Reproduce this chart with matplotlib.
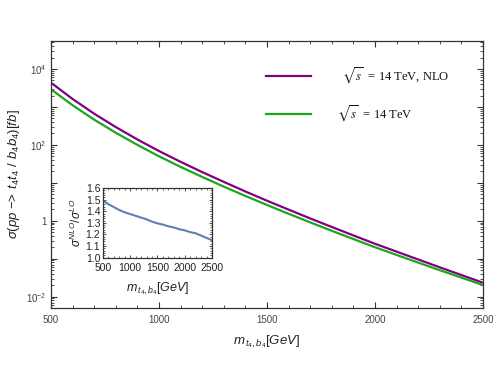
import numpy as np
import matplotlib
matplotlib.use("Agg")
import matplotlib.pyplot as plt
from matplotlib.ticker import FixedLocator, FuncFormatter, MultipleLocator, NullFormatter

# ---- data ----
mass = [500, 600, 700, 800, 900, 1000, 1100, 1200, 1300, 1400, 1500,
        1600, 1700, 1800, 1900, 2000, 2100, 2200, 2300, 2400, 2500]
sigma_lo = [2920, 1110, 462, 209, 100, 50.1, 26.3, 14.3, 7.94, 4.52, 2.61,
            1.53, 0.908, 0.545, 0.330, 0.201, 0.126, 0.0789, 0.0499, 0.0318, 0.0203]
sigma_nlo = [4350, 1620, 663, 295, 139, 68.9, 35.8, 19.2, 10.6, 5.92, 3.38,
             1.97, 1.153, 0.687, 0.411, 0.248, 0.154, 0.0955, 0.0594, 0.0372, 0.0233]
k_factor = [1.49, 1.46, 1.435, 1.41, 1.39, 1.375, 1.36, 1.345, 1.33, 1.31, 1.295,
            1.285, 1.27, 1.26, 1.245, 1.235, 1.22, 1.21, 1.19, 1.17, 1.15]
legend_labels = [r'$\sqrt{s}$  = 14 TeV, NLO', r'$\sqrt{s}$  = 14 TeV']
x_ticks = [500, 1000, 1500, 2000, 2500]
y_decades = [-2, -1, 0, 1, 2, 3, 4]
inset_x_ticks = [500, 1000, 1500, 2000, 2500]
inset_y_ticks = [1.0, 1.1, 1.2, 1.3, 1.4, 1.5, 1.6]

plt.rcParams['font.family'] = ['Liberation Sans', 'DejaVu Sans']
plt.rcParams['mathtext.fontset'] = 'custom'
plt.rcParams['mathtext.rm'] = 'Liberation Sans'
plt.rcParams['mathtext.it'] = 'Liberation Sans:italic'
plt.rcParams['mathtext.bf'] = 'Liberation Sans:bold'

purple = '#820082'
green = '#1aa81a'
frame = '#333333'
tickc = '#444444'

fig = plt.figure(figsize=(4.98, 3.74), dpi=100)
ax = fig.add_axes([0.1024, 0.1773, 0.8675, 0.7131])

ax.plot(mass, sigma_nlo, color=purple, lw=1.6, solid_capstyle='butt')
ax.plot(mass, sigma_lo, color=green, lw=1.6, solid_capstyle='butt')
ax.set_yscale('log')
ax.set_xlim(500, 2500)
ax.set_ylim(10**-2.29, 10**4.738)

ax.xaxis.set_major_locator(FixedLocator(x_ticks))
ax.xaxis.set_minor_locator(MultipleLocator(100))
ax.yaxis.set_major_locator(FixedLocator([10.0**e for e in y_decades]))
minors = [m * 10.0**e for e in range(-3, 5) for m in range(2, 10)]
minors = [v for v in minors if 10**-2.29 < v < 10**4.738]
ax.yaxis.set_minor_locator(FixedLocator(minors))
ax.yaxis.set_minor_formatter(NullFormatter())

def yfmt(v, pos):
    e = int(round(np.log10(v)))
    if e % 2:
        return ''
    if e == 0:
        return '1'
    return r'$10^{%d}$' % e
ax.yaxis.set_major_formatter(FuncFormatter(yfmt))

for sp in ax.spines.values():
    sp.set_color(frame)
    sp.set_linewidth(0.9)
ax.tick_params(which='both', direction='in', top=True, right=True, colors=frame,
               labelcolor=tickc, labelsize=7)
ax.tick_params(which='major', length=4, width=0.8)
ax.tick_params(which='minor', length=2.3, width=0.6)
ax.tick_params(axis='x', pad=5)
ax.tick_params(axis='y', pad=3)

ax.set_xlabel(r'$m_{\,t_4,b_4}[GeV]$', fontsize=9.5, color='#222222', labelpad=6)
ax.set_ylabel(r'$\sigma(pp\ \mathrm{{-}\!\!>}\ t_4t_4\ /\ b_4b_4)[fb]$', fontsize=9.5,
              color='#222222', labelpad=3)

# legend (manual)
leg_y = [0.8688, 0.7263]
leg_tx = [0.674, 0.662]
for yy, tx, c, lab in zip(leg_y, leg_tx, [purple, green], legend_labels):
    ax.plot([0.4977, 0.6019], [yy, yy], transform=ax.transAxes, color=c, lw=1.6)
    ax.text(tx, yy, lab, transform=ax.transAxes, fontsize=9, va='center', ha='left',
            family=['Liberation Serif', 'DejaVu Serif'], math_fontfamily='stix', color='#111111')

# inset
ins = fig.add_axes([0.2068, 0.311, 0.2189, 0.1864])
ins.plot(mass, k_factor, color='#5e81b5', lw=1.5)
ins.set_xlim(500, 2500)
ins.set_ylim(1.0, 1.6)
ins.xaxis.set_major_locator(FixedLocator(inset_x_ticks))
ins.xaxis.set_minor_locator(MultipleLocator(100))
ins.yaxis.set_major_locator(FixedLocator(inset_y_ticks))
ins.yaxis.set_minor_locator(MultipleLocator(0.02))
ins.yaxis.set_major_formatter(FuncFormatter(lambda v, p: '%.1f' % v))
for sp in ins.spines.values():
    sp.set_color(frame)
    sp.set_linewidth(0.9)
ins.tick_params(which='both', direction='in', top=True, right=True, colors=frame,
                labelcolor='#222222', labelsize=7.5)
ins.tick_params(axis='x', pad=4)
ins.tick_params(axis='y', pad=2)
ins.tick_params(which='major', length=2.5, width=0.6)
ins.tick_params(which='minor', length=1.3, width=0.5)
ins.set_xlabel(r'$m_{\,t_4,b_4}[GeV]$', fontsize=9, color='#222222', labelpad=5)
ins.set_ylabel(r'$\sigma^{NLO}/\sigma^{LO}$', fontsize=8.5, color='#222222', labelpad=1)

fig.savefig('out.png', dpi=100)
